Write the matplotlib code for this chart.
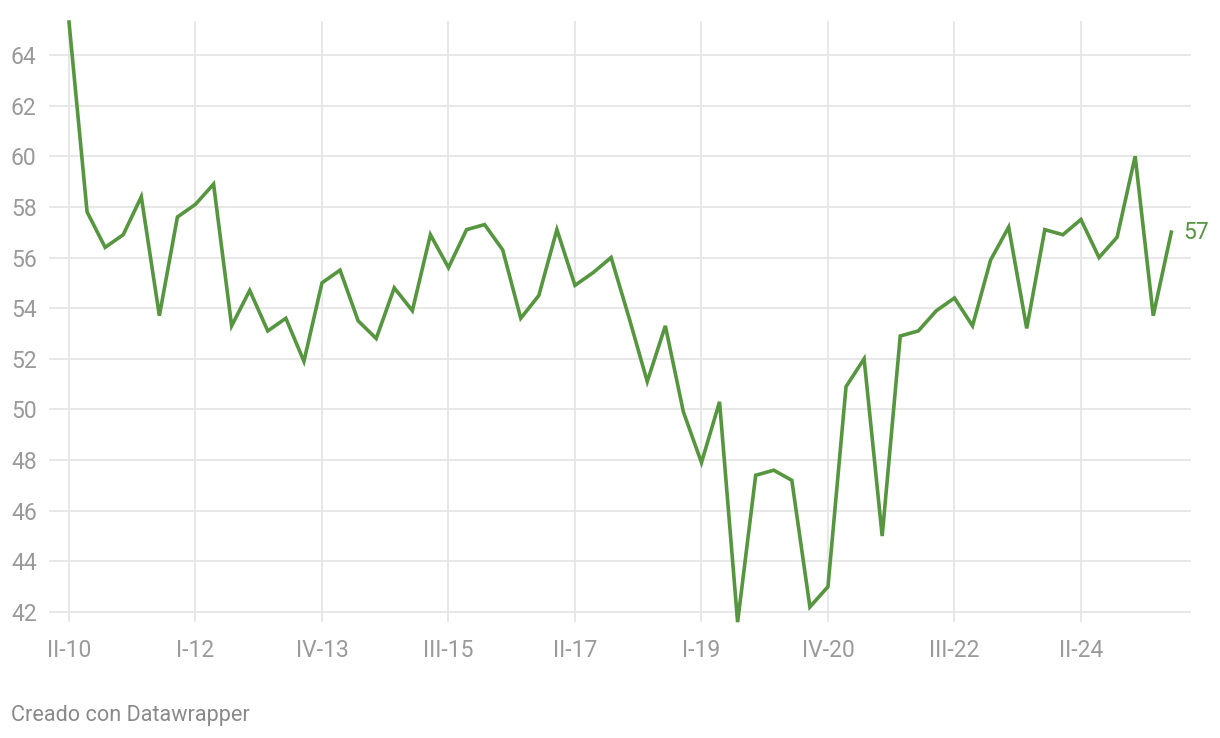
import matplotlib
matplotlib.use("Agg")
import matplotlib.pyplot as plt

OUT_PATH = "out.png"

# --- Data (trimestres II-10 ... III-25) ---
QUARTERS = [
    "II-10", "III-10", "IV-10",
    "I-11", "II-11", "III-11", "IV-11",
    "I-12", "II-12", "III-12", "IV-12",
    "I-13", "II-13", "III-13", "IV-13",
    "I-14", "II-14", "III-14", "IV-14",
    "I-15", "II-15", "III-15", "IV-15",
    "I-16", "II-16", "III-16", "IV-16",
    "I-17", "II-17", "III-17", "IV-17",
    "I-18", "II-18", "III-18", "IV-18",
    "I-19", "II-19", "III-19", "IV-19",
    "I-20", "II-20", "III-20", "IV-20",
    "I-21", "II-21", "III-21", "IV-21",
    "I-22", "II-22", "III-22", "IV-22",
    "I-23", "II-23", "III-23", "IV-23",
    "I-24", "II-24", "III-24", "IV-24",
    "I-25", "II-25", "III-25",
]

VALUES = [
    65.3, 57.8, 56.4,
    56.9, 58.4, 53.7, 57.6,
    58.1, 58.9, 53.3, 54.7,
    53.1, 53.6, 51.9, 55.0,
    55.5, 53.5, 52.8, 54.8,
    53.9, 56.9, 55.6, 57.1,
    57.3, 56.3, 53.6, 54.5,
    57.1, 54.9, 55.4, 56.0,
    53.6, 51.1, 53.3, 49.9,
    47.9, 50.3, 41.6, 47.4,
    47.6, 47.2, 42.2, 43.0,
    50.9, 52.0, 45.0, 52.9,
    53.1, 53.9, 54.4, 53.3,
    55.9, 57.2, 53.2, 57.1,
    56.9, 57.5, 56.0, 56.8,
    60.0, 53.7, 57.0,
]

X_TICK_LABELS = ["II-10", "I-12", "IV-13", "III-15", "II-17", "I-19", "IV-20", "III-22", "II-24"]
Y_TICKS = [42, 44, 46, 48, 50, 52, 54, 56, 58, 60, 62, 64]

LINE_COLOR = "#55963f"
GRID_COLOR = "#e6e6e6"
LABEL_COLOR = "#9a9a9a"
FOOTER_COLOR = "#8a8a8a"

W, H = 1220, 738


def plot_chart(out_path):
    plt.rcParams["font.family"] = ["Roboto", "DejaVu Sans"]

    fig = plt.figure(figsize=(W / 100, H / 100), dpi=100)
    # axes box in pixels: left 49, right 1191, top 21, bottom 622
    ax = fig.add_axes([49 / W, (H - 622) / H, (1191 - 49) / W, (622 - 21) / H])

    x = list(range(len(VALUES)))
    ax.plot(x, VALUES, color=LINE_COLOR, linewidth=2.6, solid_joinstyle="miter",
            clip_on=False, zorder=3)

    ax.set_xlim(-1.107, 62.09)
    ax.set_ylim(41.605, 65.34)

    xticks = [QUARTERS.index(lbl) for lbl in X_TICK_LABELS]
    ax.set_xticks(xticks)
    ax.set_xticklabels(X_TICK_LABELS)
    ax.set_yticks(Y_TICKS)
    ax.set_yticklabels([str(v) for v in Y_TICKS])

    ax.tick_params(axis="x", length=0, pad=12.5, labelsize=16.5, labelcolor=LABEL_COLOR)
    ax.tick_params(axis="y", length=0, pad=27.4, labelsize=16.5, labelcolor=LABEL_COLOR)
    for lbl in ax.get_yticklabels():
        lbl.set_horizontalalignment("left")

    ax.grid(True, color=GRID_COLOR, linewidth=1.3)
    ax.set_axisbelow(True)
    for s in ax.spines.values():
        s.set_visible(False)

    # last value label
    ax.annotate(f"{VALUES[-1]:g}", xy=(x[-1], VALUES[-1]), xytext=(8.6, 0),
                textcoords="offset points", ha="left", va="center",
                fontsize=16.5, color=LINE_COLOR)

    fig.text(11 / W, 1 - 715 / H, "Creado con Datawrapper", ha="left", va="center",
             fontsize=15.6, color=FOOTER_COLOR)

    fig.savefig(out_path, dpi=100, facecolor="white")
    plt.close(fig)


def main():
    plot_chart(OUT_PATH)


if __name__ == "__main__":
    main()
